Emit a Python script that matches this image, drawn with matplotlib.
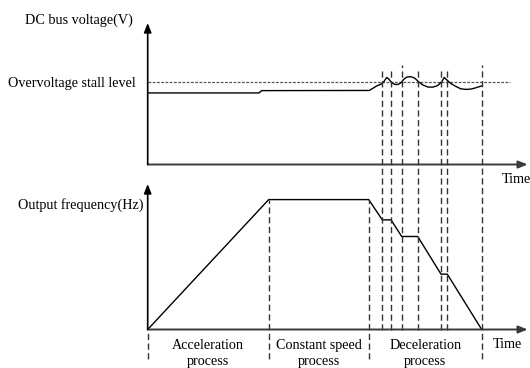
import matplotlib
matplotlib.use("Agg")
import matplotlib.pyplot as plt
import numpy as np

plt.rcParams['font.family'] = ['Liberation Serif', 'DejaVu Serif']

# ---- data (time in arbitrary units) ----
freq_t = [0, 12.1, 22.1, 23.46, 24.33, 25.4, 27.0, 29.33, 29.96, 33.4]
freq_f = [0, 50, 50, 42.2, 42.2, 35.8, 35.8, 21.3, 21.3, 0]

volt_t = [0, 11.13, 11.4, 22.16, 22.5, 22.9, 23.3, 23.6, 23.9, 24.1, 24.4,
          24.7, 25.0, 25.3, 25.6, 25.9, 26.3, 26.7, 27.1, 27.5, 28.0, 28.5,
          29.0, 29.4, 29.65, 29.9, 30.3, 30.8, 31.3, 31.8, 32.3, 32.8, 33.2, 33.4]
volt_v = [87.0, 87.0, 89.8, 90.0, 92.5, 95.5, 97.5, 100.5, 105.8, 104.0, 99.5,
          97.4, 97.2, 99.0, 103.5, 106.2, 106.8, 105.0, 100.5, 96.8, 94.2, 94.0,
          96.0, 100.5, 105.8, 103.0, 98.6, 95.0, 92.0, 91.3, 91.6, 93.2, 94.8, 95.5]
stall_level = 100
stall_end = 36.2

# vertical guide times
span_times = [23.46, 24.33, 25.4, 27.0, 29.33, 29.96, 33.4]
phase_bounds = [0, 12.1, 22.1, 33.4]
phase_labels = ["Acceleration\nprocess", "Constant speed\nprocess", "Deceleration\nprocess"]

W, H = 530, 368
fig = plt.figure(figsize=(W / 100, H / 100), dpi=100)

def rect(x0, y_top, x1, y_bot):
    return [x0 / W, 1 - y_bot / H, (x1 - x0) / W, (y_bot - y_top) / H]

x_left, x_right = 147.7, 527.7
T_MAX = 38.0

# top axes: voltage
ax_v = fig.add_axes(rect(x_left, 23, x_right, 164.5))
ax_v.set_xlim(0, T_MAX)
ax_v.set_ylim(0, 172)
# bottom axes: frequency
ax_f = fig.add_axes(rect(x_left, 184, x_right, 329.5))
ax_f.set_xlim(0, T_MAX)
ax_f.set_ylim(0, 56)

axis_col = '#3a3a3a'
for ax, ytop in ((ax_v, 172), (ax_f, 56)):
    ax.set_axis_off()
    ax.annotate('', xy=(T_MAX, 0), xytext=(0, 0), xycoords='data',
                arrowprops=dict(arrowstyle='-|>,head_length=0.55,head_width=0.22',
                                color=axis_col, lw=1.4, shrinkA=0, shrinkB=0),
                annotation_clip=False)
    ax.annotate('', xy=(0, ytop), xytext=(0, 0), xycoords='data',
                arrowprops=dict(arrowstyle='-|>,head_length=0.55,head_width=0.22',
                                color='black', lw=1.2, shrinkA=0, shrinkB=0),
                annotation_clip=False)

# stall level line
ax_v.plot([0, stall_end], [stall_level, stall_level], color='#555555', lw=0.9,
          dashes=(2.2, 1.2), clip_on=False)
# voltage curve
ax_v.plot(volt_t, volt_v, color='black', lw=1.0, clip_on=False,
          solid_joinstyle='round')

# frequency curve
ax_f.plot(freq_t, freq_f, color='black', lw=1.0, clip_on=False)

# dashed verticals (in frequency-axis units, spanning up into voltage panel)
px_per_hz = (329.5 - 184) / 56
def f_of_y(ypx):
    return (329.5 - ypx) / px_per_hz

dash_kw = dict(color='#333333', lw=1.0, dashes=(4.5, 2.5), clip_on=False)
bottom_f = f_of_y(359)
for t in phase_bounds:
    top = 0 if t == 0 else 50
    if t == 33.4:
        continue
    ax_f.plot([t, t], [bottom_f, top], **dash_kw)
for t in span_times:
    ytop = 65 if t in (25.4, 33.4) else 69
    bot = bottom_f if t == 33.4 else 0
    ax_f.plot([t, t], [bot, f_of_y(ytop)], **dash_kw)

fs = 10.2
fig.text(133 / W, 1 - 20 / H, "DC bus voltage(V)", ha='right', va='center', fontsize=fs)
fig.text(136 / W, 1 - 84 / H, "Overvoltage stall level", ha='right', va='center', fontsize=fs)
fig.text(143.5 / W, 1 - 205 / H, "Output frequency(Hz)", ha='right', va='center', fontsize=fs)
fig.text(501.5 / W, 1 - 180 / H, "Time", ha='left', va='center', fontsize=fs)
fig.text(493 / W, 1 - 345 / H, "Time", ha='left', va='center', fontsize=fs)

for i, lab in enumerate(phase_labels):
    tc = (phase_bounds[i] + phase_bounds[i + 1]) / 2
    ax_f.text(tc, f_of_y(353.5), lab, ha='center', va='center', fontsize=fs,
              linespacing=1.25, clip_on=False)

fig.savefig("out.png", dpi=100)
